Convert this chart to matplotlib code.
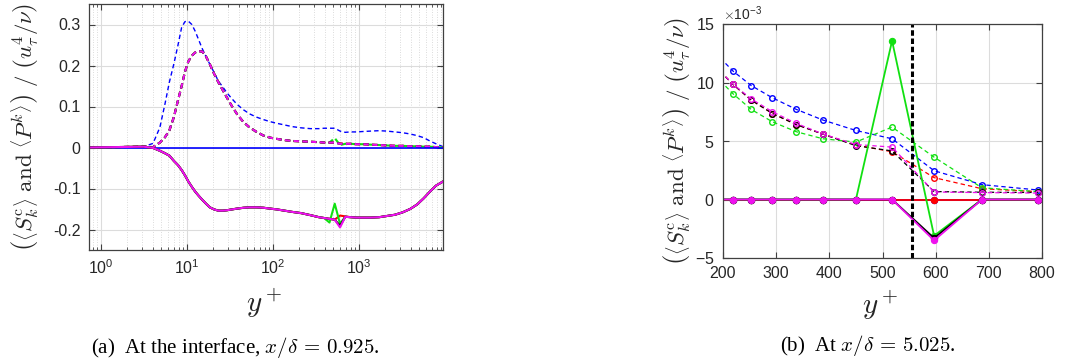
import numpy as np
import matplotlib
matplotlib.use("Agg")
import matplotlib.pyplot as plt
from matplotlib.ticker import ScalarFormatter, LogLocator, NullFormatter, MultipleLocator

plt.rcParams.update({
    "font.family": "Liberation Sans",
    "mathtext.fontset": "cm",
    "axes.unicode_minus": False,
})

# ---------------- (a) profiles at the interface, x/delta = 0.925 ----------------
yplus_a = [0.72, 1.0, 1.5, 2.2, 3.1, 4.0, 4.8, 5.5, 6.2, 7.0, 7.8, 8.6, 9.4, 10.3,
           11.3, 12.4, 13.6, 15.0, 16.5, 18.3, 20.5, 23, 26, 29, 33, 38, 45, 53,
           64, 77, 92, 110, 135, 165, 210, 270, 340, 390, 450, 518, 597, 687,
           793, 930, 1100, 1350, 1700, 2100, 2600, 3200, 3900, 4700, 5600, 6600,
           7800, 9400]

# production <P^k> (dashed)
prod_blue_a = [0.0, 0.0005, 0.001, 0.0015, 0.002, 0.010, 0.049, 0.106, 0.160, 0.205,
               0.250, 0.293, 0.307, 0.308, 0.300, 0.283, 0.262, 0.240, 0.222, 0.203,
               0.183, 0.162, 0.147, 0.133, 0.119, 0.105, 0.092, 0.082, 0.074, 0.068,
               0.063, 0.059, 0.055, 0.051, 0.048, 0.046, 0.046, 0.047, 0.047, 0.047,
               0.040, 0.037, 0.038, 0.038, 0.039, 0.040, 0.041, 0.040, 0.038, 0.036,
               0.033, 0.029, 0.024, 0.016, 0.009, 0.002]
prod_red_a = [0.0, 0.0005, 0.001, 0.0015, 0.002, 0.001, 0.012, 0.025, 0.042, 0.075,
              0.115, 0.150, 0.185, 0.210, 0.224, 0.232, 0.235, 0.234, 0.222, 0.203,
              0.180, 0.159, 0.139, 0.121, 0.101, 0.081, 0.062, 0.049, 0.038, 0.029,
              0.024, 0.021, 0.018, 0.016, 0.015, 0.014, 0.013, 0.012, 0.012, 0.012,
              0.010, 0.009, 0.009, 0.008, 0.008, 0.007, 0.006, 0.005, 0.004, 0.004,
              0.003, 0.003, 0.002, 0.002, 0.001, 0.0]
prod_green_a = [0.0, 0.0005, 0.001, 0.0015, 0.002, 0.001, 0.012, 0.025, 0.042, 0.075,
                0.115, 0.150, 0.185, 0.210, 0.224, 0.232, 0.235, 0.234, 0.222, 0.203,
                0.180, 0.159, 0.139, 0.121, 0.101, 0.081, 0.062, 0.049, 0.038, 0.029,
                0.024, 0.021, 0.018, 0.016, 0.015, 0.014, 0.013, 0.012, 0.012, 0.023,
                0.006, 0.009, 0.009, 0.008, 0.008, 0.007, 0.006, 0.005, 0.004, 0.004,
                0.003, 0.003, 0.002, 0.002, 0.001, 0.0]
prod_black_a = [0.0, 0.0005, 0.001, 0.0015, 0.002, 0.001, 0.012, 0.025, 0.042, 0.075,
                0.115, 0.150, 0.185, 0.210, 0.224, 0.232, 0.235, 0.234, 0.222, 0.203,
                0.180, 0.159, 0.139, 0.121, 0.101, 0.081, 0.062, 0.049, 0.038, 0.029,
                0.024, 0.021, 0.018, 0.016, 0.015, 0.014, 0.013, 0.012, 0.012, 0.012,
                0.009, 0.009, 0.009, 0.008, 0.008, 0.007, 0.006, 0.005, 0.004, 0.004,
                0.003, 0.003, 0.002, 0.002, 0.001, 0.0]
prod_mag_a = [0.0, 0.0005, 0.001, 0.0015, 0.002, 0.001, 0.012, 0.025, 0.042, 0.075,
              0.115, 0.150, 0.185, 0.210, 0.224, 0.232, 0.235, 0.234, 0.222, 0.203,
              0.180, 0.159, 0.139, 0.121, 0.101, 0.081, 0.062, 0.049, 0.038, 0.029,
              0.024, 0.021, 0.018, 0.016, 0.015, 0.014, 0.013, 0.012, 0.012, 0.012,
              0.009, 0.009, 0.009, 0.008, 0.008, 0.007, 0.006, 0.005, 0.004, 0.004,
              0.003, 0.003, 0.002, 0.002, 0.001, 0.0]

# source term <S_k^c> (solid)
src_blue_a = [0.0] * len(yplus_a)
src_red_a = [0.0, 0.0005, 0.001, 0.0015, 0.002, -0.001, -0.008, -0.014, -0.020, -0.033,
             -0.043, -0.055, -0.068, -0.083, -0.096, -0.108, -0.118, -0.128, -0.137,
             -0.146, -0.151, -0.154, -0.154, -0.153, -0.151, -0.149, -0.147, -0.146,
             -0.146, -0.147, -0.149, -0.151, -0.154, -0.157, -0.160, -0.165, -0.170,
             -0.172, -0.174, -0.176, -0.166, -0.168, -0.170, -0.171, -0.171, -0.171,
             -0.170, -0.167, -0.164, -0.158, -0.150, -0.139, -0.124, -0.108, -0.093,
             -0.083]
src_green_a = [0.0, 0.0005, 0.001, 0.0015, 0.002, -0.001, -0.008, -0.014, -0.020, -0.033,
               -0.043, -0.055, -0.068, -0.083, -0.096, -0.108, -0.118, -0.128, -0.137,
               -0.146, -0.151, -0.154, -0.154, -0.153, -0.151, -0.149, -0.147, -0.146,
               -0.146, -0.147, -0.149, -0.151, -0.154, -0.157, -0.160, -0.165, -0.170,
               -0.172, -0.183, -0.137, -0.186, -0.169, -0.170, -0.171, -0.171, -0.171,
               -0.170, -0.167, -0.164, -0.158, -0.150, -0.139, -0.124, -0.108, -0.093,
               -0.083]
src_black_a = [0.0, 0.0005, 0.001, 0.0015, 0.002, -0.001, -0.008, -0.014, -0.020, -0.033,
               -0.043, -0.055, -0.068, -0.083, -0.096, -0.108, -0.118, -0.128, -0.137,
               -0.146, -0.151, -0.154, -0.154, -0.153, -0.151, -0.149, -0.147, -0.146,
               -0.146, -0.147, -0.149, -0.151, -0.154, -0.157, -0.160, -0.165, -0.170,
               -0.172, -0.174, -0.176, -0.191, -0.169, -0.170, -0.171, -0.171, -0.171,
               -0.170, -0.167, -0.164, -0.158, -0.150, -0.139, -0.124, -0.108, -0.093,
               -0.083]
src_mag_a = [0.0, 0.0005, 0.001, 0.0015, 0.002, -0.001, -0.008, -0.014, -0.020, -0.033,
             -0.043, -0.055, -0.068, -0.083, -0.096, -0.108, -0.118, -0.128, -0.137,
             -0.146, -0.151, -0.154, -0.154, -0.153, -0.151, -0.149, -0.147, -0.146,
             -0.146, -0.147, -0.149, -0.151, -0.154, -0.157, -0.160, -0.165, -0.170,
             -0.172, -0.174, -0.176, -0.195, -0.169, -0.170, -0.171, -0.171, -0.171,
             -0.170, -0.167, -0.164, -0.158, -0.150, -0.139, -0.124, -0.108, -0.093,
             -0.083]

# ---------------- (b) profiles at x/delta = 5.025 (units of 1e-3) ----------------
yplus_b = [185, 219, 253, 293, 338, 388, 450, 518, 597, 687, 793]
prod_blue_b = [12.55, 10.97, 9.74, 8.69, 7.70, 6.79, 5.90, 5.19, 2.46, 1.27, 0.81]
prod_red_b = [11.40, 9.83, 8.50, 7.35, 6.40, 5.59, 4.65, 4.08, 1.87, 0.92, 0.67]
prod_green_b = [10.60, 9.03, 7.70, 6.64, 5.79, 5.19, 4.91, 6.19, 3.62, 1.00, 0.67]
prod_black_b = [11.40, 9.83, 8.50, 7.35, 6.40, 5.59, 4.60, 4.15, 0.68, 0.62, 0.60]
prod_mag_b = [11.40, 9.85, 8.60, 7.50, 6.50, 5.60, 4.70, 4.48, 0.64, 0.59, 0.55]
src_blue_b = [0, 0, 0, 0, 0, 0, 0, 0, 0, 0, 0]
src_red_b = [0, 0, 0, 0, 0, 0, 0, 0, 0, 0, 0]
src_green_b = [0, 0, 0, 0, 0, 0, 0, 13.56, -3.10, 0, 0]
src_black_b = [0, 0, 0, 0, 0, 0, 0, 0, -3.30, 0, 0]
src_mag_b = [0, 0, 0, 0, 0, 0, 0, 0, -3.50, 0, 0]
interface_yplus = 556

COLORS = {"blue": "#0000ff", "red": "#ff0000", "green": "#11e011",
          "black": "#000000", "mag": "#ee11ee"}
TXT = "#262626"

fig = plt.figure(figsize=(10.71, 3.62), dpi=100)
W, H = 1071.0, 362.0
axA = fig.add_axes([89 / W, 1 - 250 / H, 354 / W, 246 / H])
axB = fig.add_axes([723 / W, 1 - 258 / H, 319 / W, 234 / H])


def style_axes(ax):
    for s in ax.spines.values():
        s.set_color("#404040")
        s.set_linewidth(0.9)
    ax.tick_params(which="both", direction="in", top=True, right=True,
                   colors="#404040", labelcolor=TXT, labelsize=11.5)
    ax.tick_params(which="major", length=4, width=0.8, pad=6)
    ax.tick_params(which="minor", length=2.5, width=0.6)
    ax.set_axisbelow(True)


# panel (a)
style_axes(axA)
axA.set_xscale("log")
axA.set_xlim(0.72, 9400)
axA.set_ylim(-0.25, 0.35)
axA.xaxis.set_major_locator(LogLocator(base=10, numticks=10))
axA.xaxis.set_minor_locator(LogLocator(base=10, subs=np.arange(2, 10), numticks=20))
axA.xaxis.set_minor_formatter(NullFormatter())
axA.set_yticks([-0.2, -0.1, 0, 0.1, 0.2, 0.3])
axA.set_yticklabels(["-0.2", "-0.1", "0", "0.1", "0.2", "0.3"])
axA.grid(True, which="major", color="#dcdcdc", lw=0.8)
axA.grid(True, which="minor", axis="x", color="#cfcfcf", lw=0.6, ls=(0, (1, 2)))

series_a = [
    ("blue", prod_blue_a, src_blue_a),
    ("red", prod_red_a, src_red_a),
    ("green", prod_green_a, src_green_a),
    ("black", prod_black_a, src_black_a),
    ("mag", prod_mag_a, src_mag_a),
]
for key, prod, src in series_a:
    lw_d = 1.0 if key == "blue" else 1.5
    axA.plot(yplus_a, prod, color=COLORS[key], lw=lw_d, ls="--",
             dashes=(3.2, 2.2) if key == "blue" else (2.6, 1.6))
for key, prod, src in series_a:
    axA.plot(yplus_a, src, color=COLORS[key], lw=1.5 if key != "blue" else 1.2)

# panel (b)
style_axes(axB)
axB.set_xlim(200, 800)
axB.set_ylim(-5e-3, 15e-3)
axB.xaxis.set_major_locator(MultipleLocator(100))
axB.yaxis.set_major_locator(MultipleLocator(5e-3))
fmt = ScalarFormatter(useMathText=True)
fmt.set_powerlimits((-3, -3))
axB.yaxis.set_major_formatter(fmt)
axB.yaxis.get_offset_text().set_fontsize(10)
axB.yaxis.get_offset_text().set_color(TXT)
axB.grid(True, which="major", color="#dcdcdc", lw=0.8)

scale = 1e-3
series_b = [
    ("blue", prod_blue_b, src_blue_b),
    ("red", prod_red_b, src_red_b),
    ("green", prod_green_b, src_green_b),
    ("black", prod_black_b, src_black_b),
    ("mag", prod_mag_b, src_mag_b),
]
for key, prod, src in series_b:
    axB.plot(yplus_b, np.array(prod) * scale, color=COLORS[key], lw=0.9, ls="--",
             dashes=(3.5, 2.5), marker="o", ms=4, mfc="none", mew=1.0)
for key, prod, src in series_b:
    axB.plot(yplus_b, np.array(src) * scale, color=COLORS[key], lw=1.3,
             marker="o", ms=4.5, mfc=COLORS[key], mew=0.8)
axB.axvline(interface_yplus, color="k", lw=2.2, ls="--", dashes=(1.8, 0.9))

# axis labels and captions
ylab = (r"$\left(\left\langle S_k^{\rm c}\right\rangle\ \mathrm{and}\ "
        r"\left\langle P^k\right\rangle\right)\ /\ \left(u_\tau^4/\nu\right)$")
fig.text(25 / W, 1 - 127 / H, ylab, rotation=90, ha="center", va="center",
         fontsize=16.5, color=TXT)
fig.text(677 / W, 1 - 141 / H, ylab, rotation=90, ha="center", va="center",
         fontsize=16.5, color=TXT)
fig.text(264 / W, 1 - 303 / H, r"$y^+$", ha="center", va="center", fontsize=21, color=TXT)
fig.text(880 / W, 1 - 305 / H, r"$y^+$", ha="center", va="center", fontsize=21, color=TXT)

cap_font = {"family": "Liberation Serif", "size": 15}
fig.text(235 / W, 1 - 347 / H, r"(a)  At the interface, $x/\delta\,=\,0.925$.",
         ha="center", va="center", fontdict=cap_font)
fig.text(868 / W, 1 - 346 / H, r"(b)  At $x/\delta\,=\,5.025$.",
         ha="center", va="center", fontdict=cap_font)

fig.savefig("out.png", dpi=100)
